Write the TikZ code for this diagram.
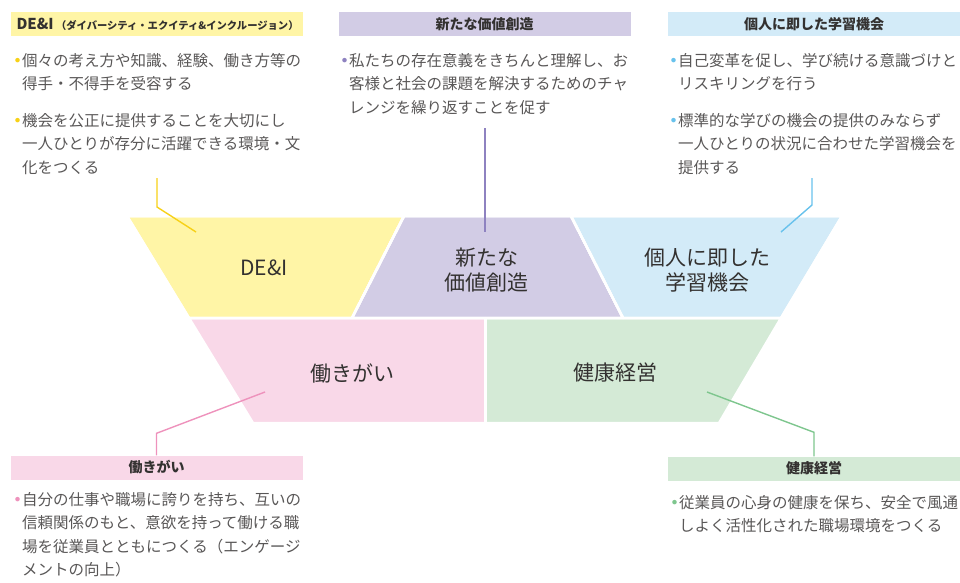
\documentclass[tikz,border=0pt]{standalone}
\usepackage{fontspec}
\setmainfont{Noto Sans CJK JP}
\usetikzlibrary{positioning}
\definecolor{deiFill}{HTML}{FFF5A6}
\definecolor{deiLine}{HTML}{F7D117}
\definecolor{newFill}{HTML}{D2CCE5}
\definecolor{newLine}{HTML}{8E82C0}
\definecolor{skillFill}{HTML}{D3EBF8}
\definecolor{skillLine}{HTML}{68C2EC}
\definecolor{workFill}{HTML}{F9D8E8}
\definecolor{workLine}{HTML}{EE92BC}
\definecolor{healthFill}{HTML}{D4EAD6}
\definecolor{healthLine}{HTML}{7EC68E}
\definecolor{bodyText}{HTML}{595757}
\definecolor{labelText}{HTML}{333130}
\newcommand\bul[1]{\llap{\textcolor{#1}{\raisebox{4pt}{\fontsize{5}{5}\selectfont ●}}\hspace{2pt}}}
\tikzset{
    head box/.style={rectangle, inner sep=0pt, minimum width=292pt, minimum height=24pt, text=labelText, font=\fontsize{14}{14}\selectfont\bfseries},
    body text/.style={inner sep=0pt, anchor=north west, align=left, text=bodyText, font=\fontsize{15.5}{23.5}\selectfont},
    part/.style={draw=white, line width=2.5pt, line join=round},
    part label/.style={align=center, text=labelText, font=\fontsize{21}{25}\selectfont},
    link/.style={line width=1.4pt}
}
\begin{document}
\begin{tikzpicture}[x=1pt, y=-1pt]
    \useasboundingbox (0,0) rectangle (960,582);
    % funnel parts
    \fill[part, fill=deiFill] (127,216) -- (404,216) -- (352,318) -- (189,318) -- cycle;
    \fill[part, fill=newFill] (404,216) -- (571,216) -- (623,318) -- (352,318) -- cycle;
    \fill[part, fill=skillFill] (571,216) -- (842,216) -- (781,318) -- (623,318) -- cycle;
    \fill[part, fill=workFill] (189,318) -- (485.5,318) -- (485.5,423) -- (253,423) -- cycle;
    \fill[part, fill=healthFill] (485.5,318) -- (781,318) -- (719,423) -- (485.5,423) -- cycle;
    \draw[part] (127,216) -- (404,216) -- (352,318) -- (189,318) -- cycle;
    \draw[part] (404,216) -- (571,216) -- (623,318) -- (352,318) -- cycle;
    \draw[part] (571,216) -- (842,216) -- (781,318) -- (623,318) -- cycle;
    \draw[part] (485.5,318) -- (485.5,423);

    \node[part label] (deiLabel) at (264,268) {DE\&I};
    \node[part label] (newLabel) at (486.5,270) {新たな\\価値創造};
    \node[part label] (skillLabel) at (707,270) {個人に即した\\学習機会};
    \node[part label] (workLabel) at (352.5,373) {働きがい};
    \node[part label] (healthLabel) at (615.5,373) {健康経営};

    % headers
    \node[head box, fill=deiFill, text width=280pt, align=left] (deiHead) at (156.5,24)
        {{\fontsize{15}{15}\selectfont DE\&I}\,{\fontsize{10.3}{10.3}\selectfont （ダイバーシティ・エクイティ\&インクルージョン）}};
    \node[head box, fill=newFill] (newHead) at (484.5,24) {新たな価値創造};
    \node[head box, fill=skillFill] (skillHead) at (814,24) {個人に即した学習機会};
    \node[head box, fill=workFill] (workHead) at (156.5,467.5) {働きがい};
    \node[head box, fill=healthFill] (healthHead) at (814,468.5) {健康経営};

    % bullet texts
    \node[body text] (deiA) at (22,53) {\bul{deiLine}個々の考え方や知識、経験、働き方等の\\得手・不得手を受容する};
    \node[body text] (deiB) at (22,113) {\bul{deiLine}機会を公正に提供することを大切にし\\一人ひとりが存分に活躍できる環境・文\\化をつくる};
    \node[body text] (newA) at (349,53) {\bul{newLine}私たちの存在意義をきちんと理解し、お\\客様と社会の課題を解決するためのチャ\\レンジを繰り返すことを促す};
    \node[body text] (skillA) at (678,53) {\bul{skillLine}自己変革を促し、学び続ける意識づけと\\リスキリングを行う};
    \node[body text] (skillB) at (678,113) {\bul{skillLine}標準的な学びの機会の提供のみならず\\一人ひとりの状況に合わせた学習機会を\\提供する};
    \node[body text] (workA) at (22,492) {\bul{workLine}自分の仕事や職場に誇りを持ち、互いの\\信頼関係のもと、意欲を持って働ける職\\場を従業員とともにつくる（エンゲージ\\メントの向上）};
    \node[body text] (healthA) at (679,495) {\bul{healthLine}従業員の心身の健康を保ち、安全で風通\\しよく活性化された職場環境をつくる};

    % connectors
    \coordinate (deiFoot) at (157,178);
    \coordinate (deiPin) at (196,232);
    \coordinate (newFoot) at (485,128);
    \coordinate (newPin) at (485,232);
    \coordinate (skillFoot) at (812,178);
    \coordinate (skillPin) at (781,232);
    \coordinate (workPin) at (265,392);
    \coordinate (healthPin) at (707,392);
    \draw[link, deiLine] (deiFoot) -- ++(0,29) -- (deiPin);
    \draw[link, newLine] (newFoot) -- (newPin);
    \draw[link, skillLine] (skillFoot) -- ++(0,27) -- (skillPin);
    \draw[link, workLine] (workPin) -- ([yshift=22pt]workHead.north) -- (workHead.north);
    \draw[link, healthLine] (healthPin) -- ([yshift=24pt]healthHead.north) -- (healthHead.north);
\end{tikzpicture}
\end{document}
